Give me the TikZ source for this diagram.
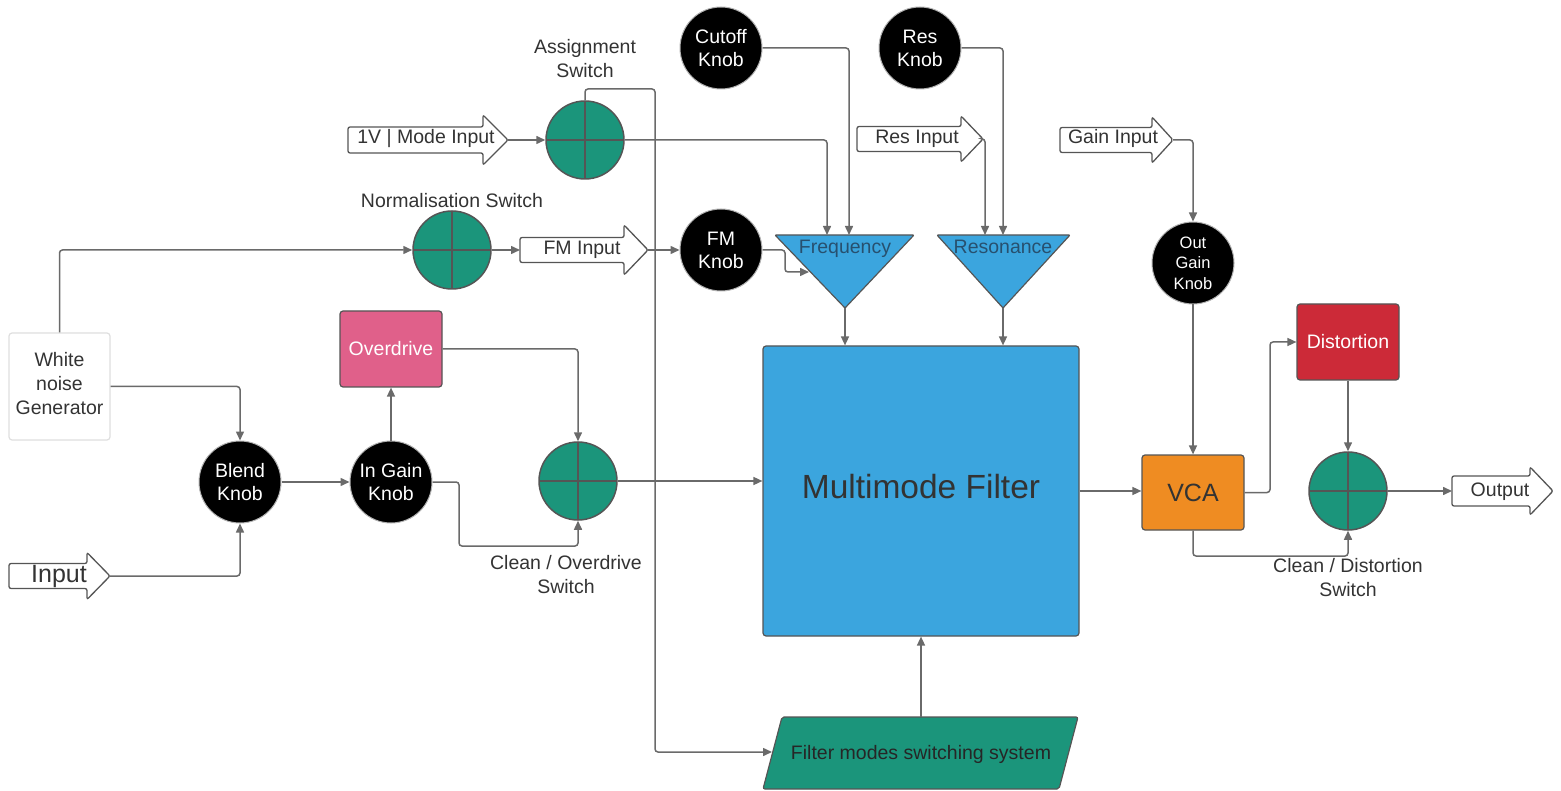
\documentclass[tikz,border=0pt]{standalone}
\usepackage{fontspec}
\setmainfont{Liberation Sans}
\usetikzlibrary{arrows.meta,calc}
\definecolor{lineg}{HTML}{6A6A6A}
\definecolor{txt}{HTML}{333333}
\definecolor{swg}{HTML}{1B957B}
\definecolor{swb}{HTML}{555555}
\definecolor{fblue}{HTML}{3BA5DE}
\definecolor{odpink}{HTML}{E0608A}
\definecolor{distred}{HTML}{CC2A38}
\definecolor{vcaor}{HTML}{EF8C22}
\definecolor{trtxt}{HTML}{27506F}
\newcommand\mynfont{\fontsize{19.5}{24}\selectfont}
\newcommand\mysfont{\fontsize{16.5}{20.5}\selectfont}
\newcommand\mybfont{\fontsize{25}{30}\selectfont}
\newcommand\myxfont{\fontsize{33.5}{40}\selectfont}
\newcommand\sigarrow[7]{%
  \draw[arrowbox] (#2,#4-#6) -- (#3-#5,#4-#6) -- (#3-#5,#4-#7) -- (#3,#4) -- (#3-#5,#4+#7) -- (#3-#5,#4+#6) -- (#2,#4+#6) -- cycle;
  \coordinate (#1-tip) at (#3,#4);
  \coordinate (#1-tail) at (#2,#4);}
\begin{document}
\begin{tikzpicture}[x=1pt,y=-1pt,
  conn/.style={draw=lineg, line width=1.5pt, rounded corners=3pt, -{Triangle[length=9pt,width=8pt]}},
  plain/.style={draw=lineg, line width=1.5pt, rounded corners=3pt},
  arrowbox/.style={draw=swb, fill=white, line width=1.3pt, rounded corners=2pt},
  lbl/.style={font=\mynfont, text=txt, align=center, inner sep=0pt},
  bl/.style={lbl, anchor=base},
  knob/.style={circle, fill=black, draw=gray!60, line width=1pt, minimum size=82pt, inner sep=0pt, text=white, align=center, font=\mynfont},
  switchc/.style={circle, fill=swg, draw=swb, line width=1.5pt, minimum size=78pt, inner sep=0pt,
    path picture={\draw[swb, line width=1.5pt] (path picture bounding box.north) -- (path picture bounding box.south)
      (path picture bounding box.west) -- (path picture bounding box.east);}},
  blk/.style={rectangle, rounded corners=3pt, draw=swb, line width=1.2pt, inner sep=0pt, align=center, font=\mynfont},
]
\useasboundingbox (0,0) rectangle (1561,791);

% ---------- knobs ----------
\node[knob] (cut) at (721,48) {Cutoff\\[-1pt]Knob};
\node[knob] (resk) at (920,48) {Res\\[-1pt]Knob};
\node[knob] (fmk) at (721,250) {FM\\[-1pt]Knob};
\node[knob, font=\mysfont] (ogk) at (1193,263) {Out\\Gain\\Knob};
\node[knob] (blend) at (240,482) {Blend\\[-1pt]Knob};
\node[knob] (igk) at (391,482) {In Gain\\[-1pt]Knob};

% ---------- switches ----------
\node[switchc] (asw) at (585,140) {};
\node[switchc] (nsw) at (452,250) {};
\node[switchc] (cos) at (578,481) {};
\node[switchc] (cds) at (1348,491) {};
\node[lbl] (aswl) at (585,59) {Assignment\\Switch};
\node[lbl] (nswl) at (452,201) {Normalisation Switch};
\node[lbl] (cosl) at (566,575) {Clean / Overdrive\\Switch};
\node[lbl] (cdsl) at (1348,578) {Clean / Distortion\\Switch};

% ---------- blocks ----------
\node[blk, fill=white, draw=gray!25, minimum width=101pt, minimum height=107pt, text=txt] (wn) at (59.5,386.5) {};
\node[lbl] (wnt) at (59.5,384) {White\\noise\\Generator};
\node[blk, fill=odpink, minimum width=102pt, minimum height=76pt, text=white] (od) at (391,349) {Overdrive};
\node[blk, fill=distred, minimum width=102pt, minimum height=76pt, text=white] (dist) at (1348,342) {Distortion};
\node[blk, fill=vcaor, minimum width=102pt, minimum height=75pt, text=txt, font=\mybfont] (vca) at (1193,492.5) {VCA};
\node[blk, fill=fblue, minimum width=316pt, minimum height=290pt] (mmf) at (921,491) {};
\node[lbl, font=\myxfont, anchor=base] (mmft) at (921,498) {Multimode Filter};

% ---------- triangles ----------
\draw[fill=fblue, draw=swb, line width=1.2pt, rounded corners=1pt] (775,235) -- (914,235) -- (845,308) -- cycle;
\draw[fill=fblue, draw=swb, line width=1.2pt, rounded corners=1pt] (937,235) -- (1070,235) -- (1003,308) -- cycle;
\node[bl, text=trtxt] (freq) at (845,254) {Frequency};
\node[bl, text=trtxt] (reso) at (1003,254) {Resonance};
\coordinate (freqApex) at (845,308);
\coordinate (resApex) at (1003,308);
\coordinate (fin1) at (827,235);
\coordinate (fin2) at (849,235);
\coordinate (fin3) at (809,272);
\coordinate (rin1) at (985,235);
\coordinate (rin2) at (1003,235);

% ---------- filter modes ----------
\draw[fill=swg, draw=swb, line width=1.2pt, rounded corners=2pt] (782,717) -- (1078,717) -- (1059,789) -- (763,789) -- cycle;
\node[bl, text=black!85] (fms) at (921,759) {Filter modes switching system};
\coordinate (fmsTop) at (921,717);
\coordinate (fmsL) at (772,752);

% ---------- signal arrows ----------
\sigarrow{mode}{348}{508}{140}{25}{13}{25}
\node[bl] (modet) at (426,144) {1V | Mode Input};
\sigarrow{fmi}{520}{648}{250}{24}{12.5}{25}
\node[bl] (fmit) at (582,255) {FM Input};
\sigarrow{resi}{857}{983}{139}{22}{12.5}{23}
\node[bl] (resit) at (917,144) {Res Input};
\sigarrow{gain}{1060}{1173}{140}{21}{12.5}{23}
\node[bl] (gaint) at (1113,144) {Gain Input};
\sigarrow{outp}{1452}{1553}{491}{23}{15}{24}
\node[bl] (outpt) at (1500,496) {Output};
\sigarrow{inp}{9}{110}{576}{23}{12.5}{23.5}
\node[bl, font=\mybfont] (inpt) at (59,582) {Input};

% ---------- connectors ----------
\draw[conn] (mode-tip) -- (asw.west);
\draw[conn] (asw.north) |- (655,89) -- (655,752) -- (fmsL);
\draw[conn] (asw.east) -| (fin1);
\draw[conn] (cut.east) -| (fin2);
\draw[conn] (resk.east) -| (rin2);
\draw[conn] (resi-tip) -| (rin1);
\draw[conn] (fmk.east) -- (785,250) |- (fin3);
\draw[conn] (fmi-tip) -- (fmk.west);
\draw[conn] (nsw.east) -- (fmi-tail);
\draw[conn] (wn.north) |- (nsw.west);
\draw[conn] (wn.east) -| (blend.north);
\draw[conn] (inp-tip) -| (blend.south);
\draw[conn] (blend.east) -- (igk.west);
\draw[conn] (igk.north) -- (od.south);
\draw[conn] (od.east) -| (cos.north);
\draw[conn] (igk.east) -| (459,546) -| (cos.south);
\draw[conn] (cos.east) -- (cos.east -| mmf.west);
\draw[conn] (freqApex) -- (freqApex |- mmf.north);
\draw[conn] (resApex) -- (resApex |- mmf.north);
\draw[conn] (fmsTop) -- (mmf.south);
\draw[conn] (mmf.east) -- (mmf.east -| vca.west);
\draw[conn] (gain-tip) -| (ogk.north);
\draw[conn] (ogk.south) -- (vca.north);
\draw[conn] (vca.east) -| (1270,342) -- (dist.west);
\draw[conn] (dist.south) -- (cds.north);
\draw[conn] (vca.south) |- (1348,556) -- (cds.south);
\draw[conn] (cds.east) -- (outp-tail);
\end{tikzpicture}
\end{document}
